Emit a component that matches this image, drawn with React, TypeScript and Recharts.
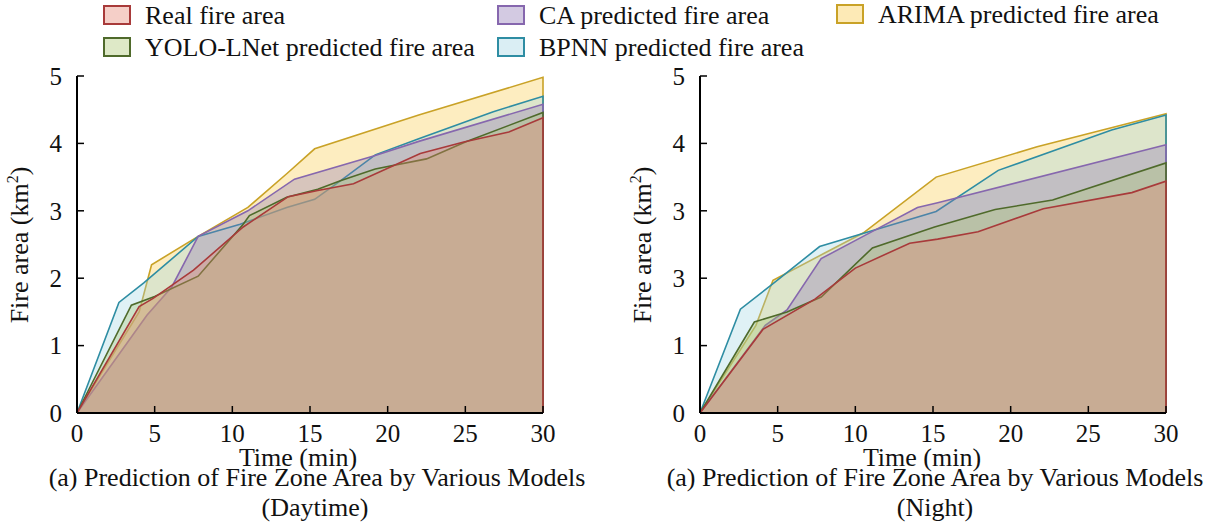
import React from 'react';
import { AreaChart, Area, XAxis, YAxis } from 'recharts';

const FONT = 'Liberation Serif, Times New Roman, serif';

// [time (min), area (km²)]
const dayReal = [[0, 0], [4, 1.58], [4.9, 1.7], [7.5, 2.12], [10.7, 2.76], [13.6, 3.21], [15.5, 3.3], [17.8, 3.4], [22.1, 3.85], [24.9, 4.02], [27.8, 4.17], [30, 4.38]];
const dayYolo = [[0, 0], [3.5, 1.6], [5, 1.73], [7.8, 2.03], [10.7, 2.8], [11.1, 2.93], [13.5, 3.2], [15.5, 3.32], [17, 3.45], [19.2, 3.62], [22.5, 3.77], [25, 4.02], [30, 4.46]];
const dayCa = [[0, 0], [4.5, 1.45], [6.1, 1.87], [7.8, 2.62], [11, 3.0], [14, 3.47], [19.2, 3.82], [22, 4.03], [30, 4.58]];
const dayBpnn = [[0, 0], [2.7, 1.64], [4.3, 1.93], [7.8, 2.62], [10.5, 2.8], [13.5, 3.05], [15.3, 3.17], [17, 3.45], [19.2, 3.83], [22, 4.07], [26.8, 4.47], [30, 4.7]];
const dayArima = [[0, 0], [4, 1.5], [4.8, 2.2], [7.8, 2.62], [11, 3.05], [13.5, 3.55], [15.3, 3.92], [22, 4.42], [30, 4.98]];

const nightReal = [[0, 0], [4.05, 1.24], [7.4, 1.69], [10, 2.15], [13.5, 2.52], [15.3, 2.58], [17.9, 2.69], [22.1, 3.03], [27.8, 3.27], [30, 3.44]];
const nightYolo = [[0, 0], [3.5, 1.35], [5.6, 1.5], [7.8, 1.72], [11.1, 2.45], [15.1, 2.76], [19, 3.02], [22.7, 3.16], [30, 3.71]];
const nightCa = [[0, 0], [4.2, 1.3], [5.6, 1.53], [7.8, 2.29], [10.5, 2.62], [14, 3.05], [15.3, 3.12], [30, 3.98]];
const nightBpnn = [[0, 0], [2.6, 1.54], [4.6, 1.9], [7.7, 2.47], [10, 2.63], [15.2, 2.99], [19.2, 3.6], [26.5, 4.2], [30, 4.42]];
const nightArima = [[0, 0], [3.6, 1.3], [4.7, 1.97], [8, 2.37], [10.5, 2.67], [15.2, 3.5], [21.7, 3.95], [30, 4.44]];

const xTicks = [0, 5, 10, 15, 20, 25, 30];
const yTicks = [0, 1, 2, 3, 4, 5];
const dayYTickLabels = ['0', '1', '2', '3', '4', '5'];
const nightYTickLabels = ['0', '1', '3', '3', '4', '5'];

const seriesNames = ['ARIMA predicted fire area', 'BPNN predicted fire area', 'CA predicted fire area', 'YOLO-LNet predicted fire area', 'Real fire area'];
const strokes = ['#C9A227', '#2E8DA3', '#8667AE', '#4F6A2B', '#A83A3A'];
const fills = ['#F9C840', '#9ED3E2', '#8C73B4', '#A8C46C', '#E6826E'];
const FILL_OPACITY = 0.33;

// close each polygon down to the baseline at the last time
const toPoints = (pts: number[][]) => {
  const out = pts.map(([t, v]) => ({ t, v }));
  out.push({ t: pts[pts.length - 1][0], v: 0 });
  return out;
};

const tickStyle = { fill: '#111', fontSize: 25, fontFamily: FONT };

const Panel = ({ series, yLabels }: { series: number[][][]; yLabels: string[] }) => (
  <AreaChart width={590} height={460} margin={{ top: 76, right: 47, bottom: 17, left: 37 }} style={{ fontFamily: FONT }}>
    <XAxis
      type="number"
      dataKey="t"
      domain={[0, 30]}
      ticks={xTicks}
      height={30}
      axisLine={{ stroke: '#000', strokeWidth: 2 }}
      tickLine={{ stroke: '#000', strokeWidth: 1.5 }}
      tickSize={-7}
      tickMargin={18}
      tick={tickStyle}
    />
    <YAxis
      type="number"
      dataKey="v"
      domain={[0, 5]}
      ticks={yTicks}
      width={40}
      axisLine={{ stroke: '#000', strokeWidth: 2 }}
      tickLine={{ stroke: '#000', strokeWidth: 1.5 }}
      tickSize={-7}
      tickMargin={22}
      tickFormatter={(v: number) => yLabels[v]}
      tick={tickStyle}
    />
    {series.map((pts, i) => (
      <Area
        key={seriesNames[i]}
        data={toPoints(pts)}
        dataKey="v"
        name={seriesNames[i]}
        type="linear"
        stroke={strokes[i]}
        strokeWidth={1.6}
        fill={fills[i]}
        fillOpacity={FILL_OPACITY}
        dot={false}
        activeDot={false}
        isAnimationActive={false}
      />
    ))}
  </AreaChart>
);

// cap-centre y of each legend row
const legendItems = [
  { idx: 4, left: 103, cy: 15 },
  { idx: 3, left: 103, cy: 47 },
  { idx: 2, left: 497, cy: 15 },
  { idx: 1, left: 497, cy: 47 },
  { idx: 0, left: 836, cy: 14 },
];

const hexA = (hex: string, a: number) => {
  const n = parseInt(hex.slice(1), 16);
  return `rgba(${(n >> 16) & 255},${(n >> 8) & 255},${n & 255},${a})`;
};

const text: React.CSSProperties = { position: 'absolute', fontFamily: FONT, fontSize: 26, color: '#111', whiteSpace: 'nowrap', lineHeight: '18px' };

const YLabel = ({ x }: { x: number }) => (
  <div style={{ ...text, lineHeight: '26px', left: x, top: 245, transform: 'translate(-50%, -50%) rotate(-90deg)' }}>
    Fire area (km<sup style={{ fontSize: 16, lineHeight: 0 }}>2</sup>)
  </div>
);

const Centered = ({ x, top, children }: { x: number; top: number; children: React.ReactNode }) => (
  <div style={{ ...text, left: x, top, transform: 'translateX(-50%)' }}>{children}</div>
);

const App = () => (
  <div style={{ position: 'absolute', left: 0, top: 0, width: 1215, height: 531, background: '#fff', overflow: 'hidden', fontFamily: FONT }}>
    {legendItems.map(({ idx, left, cy }) => (
      <React.Fragment key={seriesNames[idx]}>
        <div
          style={{
            position: 'absolute',
            left,
            top: cy - 10,
            width: 24,
            height: 16,
            border: `2px solid ${strokes[idx]}`,
            background: hexA(fills[idx], FILL_OPACITY + 0.05),
          }}
        />
        <div style={{ ...text, left: left + 42, top: cy - 8 }}>{seriesNames[idx]}</div>
      </React.Fragment>
    ))}

    <div style={{ position: 'absolute', left: 0, top: 0 }}>
      <Panel series={[dayArima, dayBpnn, dayCa, dayYolo, dayReal]} yLabels={dayYTickLabels} />
    </div>
    <div style={{ position: 'absolute', left: 623, top: 0 }}>
      <Panel series={[nightArima, nightBpnn, nightCa, nightYolo, nightReal]} yLabels={nightYTickLabels} />
    </div>

    <YLabel x={20} />
    <YLabel x={643} />

    <Centered x={298} top={449}>Time (min)</Centered>
    <Centered x={922} top={449}>Time (min)</Centered>

    <Centered x={317} top={469}>(a) Prediction of Fire Zone Area by Various Models</Centered>
    <Centered x={315} top={499}>(Daytime)</Centered>
    <Centered x={935} top={469}>(a) Prediction of Fire Zone Area by Various Models</Centered>
    <Centered x={935} top={499}>(Night)</Centered>
  </div>
);

export default App;
